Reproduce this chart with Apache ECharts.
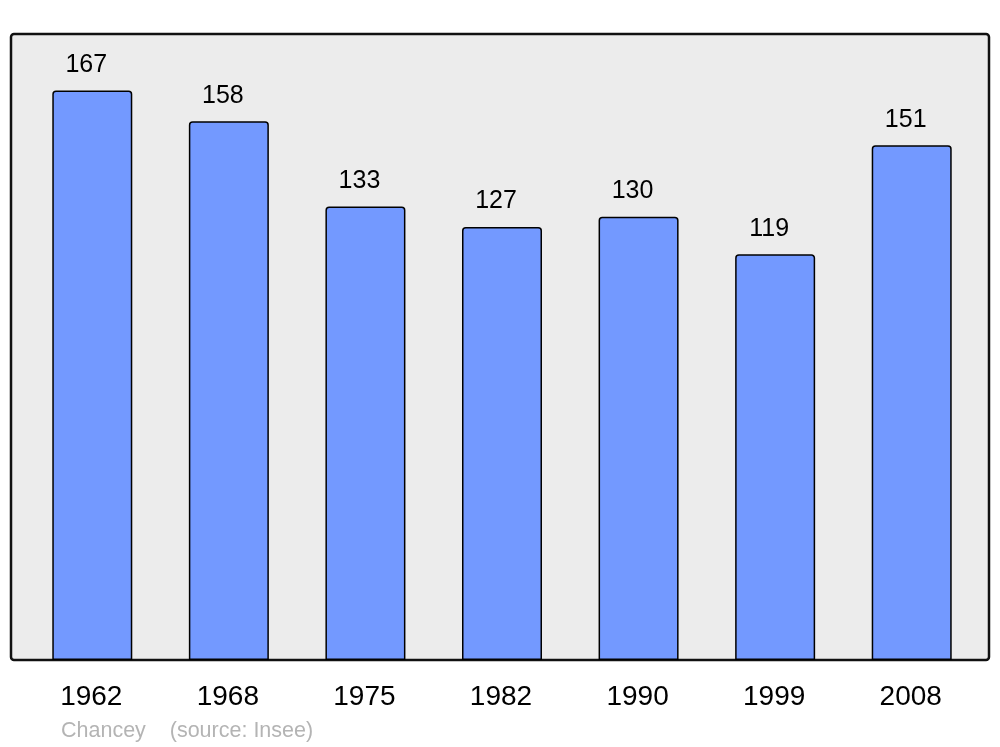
<!DOCTYPE html>
<html><head><meta charset="utf-8">
<script src="https://cdn.jsdelivr.net/npm/echarts@6/dist/echarts.min.js"></script>
<style>html,body{margin:0;padding:0;background:#fff}#c{width:1000px;height:747px}</style>
</head><body><div id="c"></div>
<script>
const years = ['1962','1968','1975','1982','1990','1999','2008'];
const population = [167,158,133,127,130,119,151];
const footer = 'Chancey    (source: Insee)';

const chart = echarts.init(document.getElementById('c'));
chart.setOption({
  animation: false,
  backgroundColor: '#ffffff',
  graphic: [
    {type:'rect', shape:{x:11,y:34,width:978,height:626,r:3}, style:{fill:'#ececec',stroke:'#111',lineWidth:2.5}, z:-10},
    {type:'text', left:61, top:720, style:{text:footer, fill:'#b4b4b4', font:'21.5px "Liberation Sans", Arial, sans-serif'}}
  ],
  grid: {left:24, right:20, top:34, bottom:87},
  xAxis: {
    type:'category', data:years,
    axisLine:{show:false}, axisTick:{show:false},
    axisLabel:{color:'#000', fontSize:28, fontFamily:'Liberation Sans', margin:23, padding:[0,2,0,0]}
  },
  yAxis: {type:'value', min:0, max:183.6, show:false, splitLine:{show:false}},
  series: [{
    type:'bar', data:population, barWidth:80,
    itemStyle:{color:'#7399ff', borderColor:'#000', borderWidth:1.5, borderRadius:[3,3,0,0]},
    label:{show:true, position:'top', distance:13, offset:[-6,0], color:'#000', fontSize:25, fontFamily:'Liberation Sans'}
  }]
});
</script></body></html>
